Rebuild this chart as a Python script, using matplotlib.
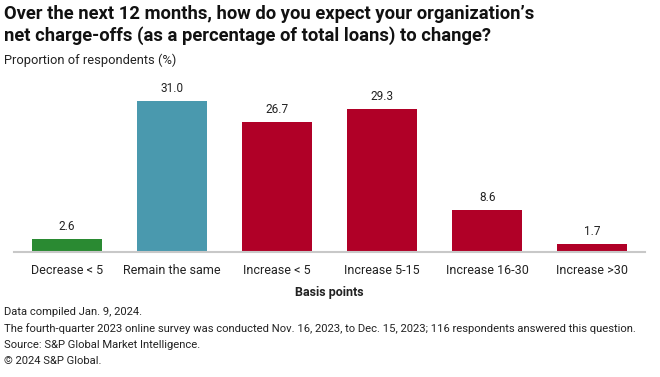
import matplotlib
matplotlib.use("Agg")
import matplotlib.pyplot as plt
import numpy as np

plt.rcParams['font.family'] = ['Roboto', 'DejaVu Sans']

categories = ['Decrease < 5', 'Remain the same', 'Increase < 5', 'Increase 5-15', 'Increase 16-30', 'Increase >30']
values = [2.6, 31.0, 26.7, 29.3, 8.6, 1.7]
colors = ['#2a8a32', '#4a99ae', '#b00027', '#b00027', '#b00027', '#b00027']

W, H = 660, 377
fig = plt.figure(figsize=(W / 100, H / 100), dpi=100)

# axes placed in pixel terms: x 14..645, y 95..252 (from top)
ax = fig.add_axes([14 / W, 1 - 252 / H, 631 / W, 157 / H])
x = np.arange(len(categories))
ax.bar(x, values, width=0.665, color=colors)
for xi, v in zip(x, values):
    ax.text(xi, v + 1.2, f'{v:.1f}', ha='center', va='bottom', fontsize=8.5, color='#222222')

ax.set_xlim(-0.5, 5.5)
ax.set_ylim(0, 32.2)
ax.set_yticks([])
ax.set_xticks(x)
ax.set_xticklabels(categories, fontsize=9, color='#222222')
ax.tick_params(axis='x', length=0, pad=9)
for s in ['top', 'right', 'left']:
    ax.spines[s].set_visible(False)
ax.spines['bottom'].set_color('#c8c8c8')
ax.spines['bottom'].set_linewidth(1.5)
ax.set_xlabel('Basis points', fontsize=9, fontweight='bold', color='#222222', labelpad=6)

fig.text(4 / W, 1 - 5 / H, "Over the next 12 months, how do you expect your organization\u2019s\nnet charge-offs (as a percentage of total loans) to change?",
         fontsize=13.2, fontweight='bold', va='top', ha='left', color='#111111', linespacing=1.2)
fig.text(4 / W, 1 - 54 / H, 'Proportion of respondents (%)', fontsize=9.3, va='top', ha='left', color='#222222')

foot = ["Data compiled Jan. 9, 2024.",
        "The fourth-quarter 2023 online survey was conducted Nov. 16, 2023, to Dec. 15, 2023; 116 respondents answered this question.",
        "Source: S&P Global Market Intelligence.",
        "\u00a9 2024 S&P Global."]
for i, line in enumerate(foot):
    fig.text(4 / W, 1 - (307 + i * 16.5) / H, line, fontsize=8.1, va='top', ha='left', color='#222222')

fig.savefig('out.png', dpi=100)
